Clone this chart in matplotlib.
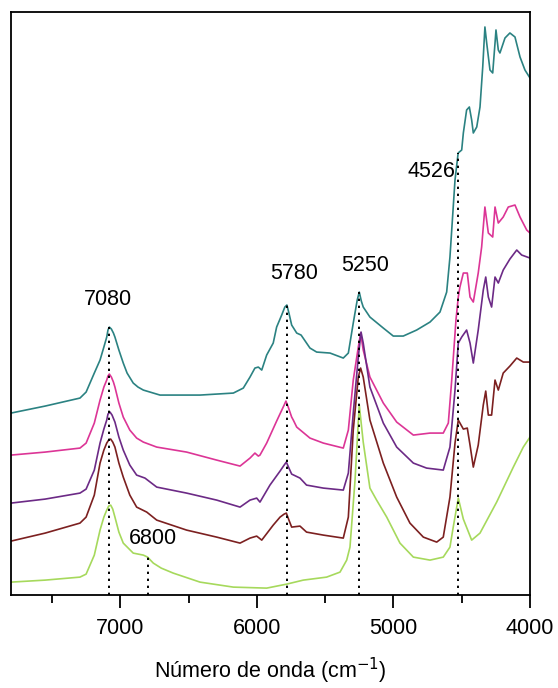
"""
NIR spectra stacked with band assignments
"""

import numpy as np
import matplotlib
matplotlib.use("Agg")
import matplotlib.pyplot as plt
from matplotlib.ticker import MultipleLocator

plt.rcParams['font.family'] = ['Liberation Sans', 'DejaVu Sans']

# Spectra (wavenumber in cm-1, offset absorbance in a.u.), top to bottom
wn_teal = [7800, 7550, 7295, 7250, 7190, 7148, 7120, 7099, 7090, 7080, 7065, 7050,
           7039, 7010, 6978, 6950, 6905, 6870, 6831, 6709, 6416,
           6172, 6099, 6050, 6014, 5989, 5964, 5928, 5880, 5855, 5818, 5795, 5780,
           5765, 5745, 5708, 5676, 5611, 5562, 5464, 5367, 5330, 5294, 5265, 5250,
           5235, 5221, 5172, 5074, 5001, 4928, 4830, 4732, 4659, 4610, 4586, 4549,
           4526, 4500, 4488, 4464, 4444, 4427, 4415, 4390, 4366, 4346, 4330, 4317,
           4293, 4273, 4256, 4249, 4232, 4220, 4183, 4147, 4110, 4073, 4037, 4000]
ab_teal = [182, 189, 197, 203, 222, 235, 248, 258, 265, 268, 266, 262,
           258, 245, 232, 222, 212, 208, 205, 200, 200,
           202, 207, 218, 227, 228, 225, 240, 252, 268, 280, 288, 290,
           282, 270, 262, 260, 247, 243, 242, 237, 242, 272, 295, 303,
           294, 288, 278, 267, 259, 259, 265, 273, 283, 303, 338, 415,
           442, 445, 462, 485, 488, 475, 462, 468, 488, 528, 568, 552,
           525, 522, 552, 565, 545, 542, 557, 562, 558, 538, 525, 517]

wn_magenta = [7800, 7550, 7295, 7250, 7190, 7148, 7120, 7099, 7090, 7080, 7065, 7050,
              7039, 7010, 6978, 6930, 6880, 6831, 6733, 6514,
              6294, 6123, 6050, 6014, 5989, 5977, 5928, 5855, 5800, 5787, 5770, 5745,
              5733, 5708, 5611, 5513, 5367, 5330, 5294, 5257, 5240, 5221, 5172, 5074,
              4976, 4854, 4732, 4635, 4598, 4573, 4542, 4525, 4513, 4488, 4459, 4439,
              4415, 4379, 4354, 4330, 4305, 4273, 4256, 4232, 4196, 4159, 4110, 4073,
              4024, 4000]
ab_magenta = [140, 143, 147, 152, 172, 195, 208, 215, 219, 221, 218, 213,
              208, 192, 178, 165, 157, 153, 148, 143,
              135, 129, 137, 142, 139, 140, 152, 174, 190, 194, 188, 178,
              175, 168, 157, 152, 147, 165, 215, 248, 262, 245, 218, 192,
              173, 160, 162, 162, 172, 215, 275, 298, 308, 322, 322, 298,
              293, 322, 348, 388, 362, 358, 388, 372, 378, 388, 390, 378,
              365, 362]

wn_purple = [7800, 7550, 7295, 7250, 7190, 7148, 7120, 7099, 7090, 7075, 7060, 7039,
             7010, 6978, 6930, 6880, 6819, 6733, 6514,
             6294, 6123, 6050, 6001, 5977, 5904, 5830, 5800, 5784, 5765, 5745, 5684,
             5636, 5513, 5367, 5330, 5294, 5257, 5237, 5221, 5172, 5074, 4976, 4854,
             4757, 4635, 4586, 4549, 4525, 4500, 4464, 4439, 4415, 4379, 4342, 4324,
             4305, 4281, 4256, 4232, 4196, 4147, 4097, 4061, 4000]
ab_purple = [92, 96, 102, 106, 125, 152, 166, 175, 181, 183, 180, 173,
             158, 145, 130, 120, 117, 108, 102,
             95, 88, 95, 97, 93, 110, 124, 130, 133, 127, 121, 117,
             110, 107, 105, 122, 182, 238, 263, 252, 208, 172, 148, 132,
             127, 125, 148, 205, 252, 258, 265, 252, 232, 265, 305, 318,
             298, 288, 318, 312, 325, 336, 345, 340, 337]

wn_brown = [7800, 7550, 7295, 7250, 7190, 7148, 7120, 7099, 7085, 7070, 7055, 7039,
            7010, 6978, 6930, 6880, 6806, 6733, 6514,
            6294, 6123, 6050, 6001, 5964, 5880, 5830, 5800, 5784, 5765, 5745, 5684,
            5636, 5513, 5367, 5330, 5294, 5257, 5240, 5221, 5172, 5074, 4976, 4879,
            4781, 4683, 4635, 4586, 4549, 4525, 4488, 4459, 4439, 4415, 4379, 4342,
            4324, 4305, 4281, 4256, 4232, 4196, 4147, 4097, 4049, 4000]
ab_brown = [54, 62, 72, 78, 100, 132, 145, 152, 155, 156, 153, 148,
            132, 118, 100, 88, 83, 75, 65,
            58, 52, 57, 59, 55, 70, 78, 81, 82, 75, 68, 69,
            63, 60, 57, 78, 165, 218, 227, 218, 175, 132, 98, 72,
            58, 53, 58, 98, 152, 175, 166, 167, 150, 128, 150, 190,
            204, 180, 180, 215, 205, 222, 229, 237, 233, 233]

wn_green = [7800, 7550, 7295, 7250, 7190, 7148, 7120, 7099, 7085, 7070, 7055, 7039,
            7010, 6978, 6905, 6831, 6800, 6758, 6700,
            6612, 6416, 6172, 5928, 5781, 5660, 5489, 5391, 5342, 5318, 5281, 5250,
            5221, 5172, 5123, 5049, 4952, 4854, 4732, 4635, 4586, 4562, 4525, 4488,
            4427, 4366, 4244, 4122, 4049, 4000]
ab_green = [13, 15, 18, 21, 40, 65, 78, 85, 89, 90, 86, 78,
            63, 52, 42, 40, 38, 32, 27,
            22, 13, 8, 7, 11, 15, 18, 23, 35, 48, 115, 190,
            153, 107, 95, 78, 52, 38, 35, 38, 48, 68, 97, 76,
            55, 62, 93, 128, 148, 158]

spectra = [
    (wn_teal, ab_teal, '#2b8282'),
    (wn_magenta, ab_magenta, '#dc3596'),
    (wn_purple, ab_purple, '#6c2a86'),
    (wn_brown, ab_brown, '#7c2020'),
    (wn_green, ab_green, '#a6d95c'),
]

# Band positions, height of the dotted marker and label placement
band_wn = [7080, 6800, 5780, 5250, 4526]
band_top = [268, 40, 290, 303, 442]
band_labels = ['7080', '6800', '5780', '5250', '4526']
label_x = [7090, 6759, 5728, 5208, 4548]
label_y = [296, 57, 322, 330, 424]
label_ha = ['center', 'center', 'center', 'center', 'right']

fig = plt.figure(figsize=(5.58, 6.88), dpi=100)
ax = fig.add_axes([0.0197, 0.135, 0.9301, 0.8476])

for wn, ab, color in spectra:
    ax.plot(wn, ab, color=color, linewidth=1.2, solid_joinstyle='round')

for wn, top in zip(band_wn, band_top):
    ax.plot([wn, wn], [0, top], color='black', linewidth=1.4,
            linestyle=(0, (1.2, 2.4)))

for txt, x, y, ha in zip(band_labels, label_x, label_y, label_ha):
    ax.text(x, y, txt, fontsize=15.5, ha=ha, va='center')

ax.set_xlim(7800, 4000)
ax.set_ylim(0, 583)
ax.xaxis.set_major_locator(MultipleLocator(1000))
ax.xaxis.set_minor_locator(MultipleLocator(500))
ax.tick_params(axis='x', which='major', direction='out', length=9.5, width=1.3,
               labelsize=15.5, pad=7)
ax.tick_params(axis='x', which='minor', direction='out', length=5.5, width=1.3)
ax.set_yticks([])
for spine in ax.spines.values():
    spine.set_linewidth(1.3)

ax.set_xlabel('Número de onda (cm$^{-1}$)', fontsize=15.5, labelpad=12)

fig.savefig('out.png', dpi=100)
